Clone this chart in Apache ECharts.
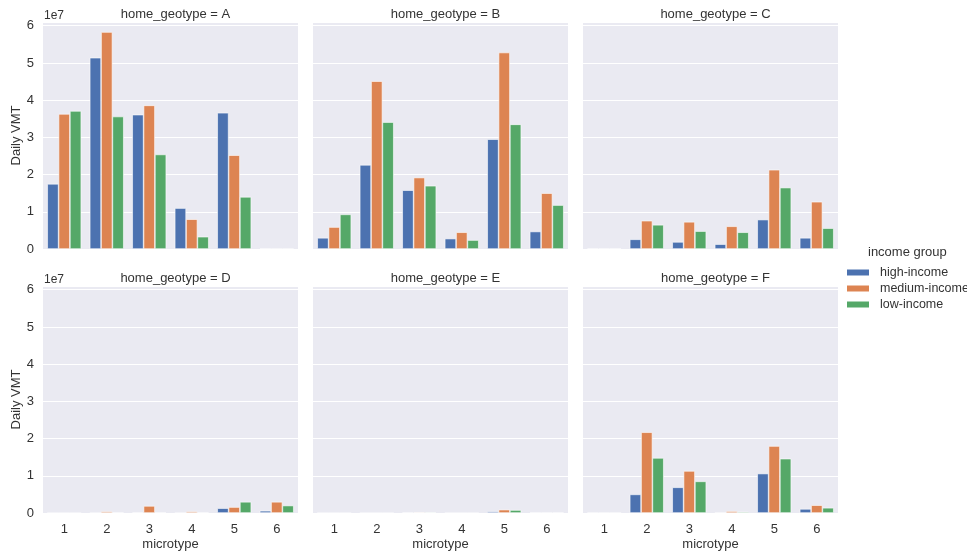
<!DOCTYPE html>
<html>
<head>
<meta charset="utf-8">
<script src="https://cdn.jsdelivr.net/npm/echarts@6/dist/echarts.min.js"></script>
<style>html,body{margin:0;padding:0;background:#fff;}#c{width:967px;height:552px;}</style>
</head>
<body>
<div id="c"></div>
<script>
// values in units of 1e7 (Daily VMT)
const categories = ['1', '2', '3', '4', '5', '6'];
const geotypes = ['A', 'B', 'C', 'D', 'E', 'F'];
const groups = ['high-income', 'medium-income', 'low-income'];
const yTicks = [0, 1, 2, 3, 4, 5, 6];
const highIncome = [
  [1.75, 5.14, 3.61, 1.10, 3.66, 0.01],
  [0.30, 2.26, 1.58, 0.28, 2.95, 0.47],
  [0.01, 0.26, 0.19, 0.13, 0.79, 0.30],
  [0.00, 0.00, 0.01, 0.00, 0.13, 0.06],
  [0.00, 0.00, 0.01, 0.00, 0.04, 0.01],
  [0.005, 0.50, 0.69, 0.005, 1.06, 0.11]
];
const mediumIncome = [
  [3.63, 5.83, 3.86, 0.80, 2.52, 0.005],
  [0.59, 4.51, 1.92, 0.45, 5.28, 1.50],
  [0.01, 0.76, 0.73, 0.61, 2.13, 1.27],
  [0.00, 0.04, 0.19, 0.04, 0.16, 0.30],
  [0.00, 0.00, 0.02, 0.00, 0.09, 0.01],
  [0.005, 2.17, 1.13, 0.05, 1.80, 0.21]
];
const lowIncome = [
  [3.71, 3.56, 2.54, 0.33, 1.40, 0.005],
  [0.93, 3.41, 1.70, 0.24, 3.35, 1.18],
  [0.01, 0.65, 0.48, 0.45, 1.65, 0.56],
  [0.00, 0.01, 0.01, 0.01, 0.30, 0.20],
  [0.00, 0.00, 0.02, 0.00, 0.08, 0.01],
  [0.005, 1.48, 0.85, 0.03, 1.46, 0.14]
];

const colors = ['#4C72B0', '#DD8452', '#55A868'];
const seriesData = [highIncome, mediumIncome, lowIncome];
const lefts = [43, 313, 583];
const tops = [22, 286];
const W = 255, H = 227;
const textColor = '#333';
const font = 'Liberation Sans, Arial, sans-serif';

const grids = [], xAxes = [], yAxes = [], series = [], titles = [];
geotypes.forEach((g, i) => {
  const col = i % 3, row = Math.floor(i / 3);
  grids.push({left: lefts[col], top: tops[row], width: W, height: (row === 0 ? H : H + 1),
    show: true, backgroundColor: '#EAEAF2', borderWidth: 0, containLabel: false});
  xAxes.push({type: 'category', gridIndex: i, data: categories,
    axisLine: {show: false}, axisTick: {show: false},
    axisLabel: {show: row === 1, color: textColor, fontSize: 13, fontFamily: font, margin: 10},
    name: row === 1 ? 'microtype' : '', nameLocation: 'middle', nameGap: 25,
    nameTextStyle: {color: textColor, fontSize: 13, fontFamily: font}});
  yAxes.push({type: 'value', gridIndex: i, min: 0, max: 6.1, interval: 1,
    axisLine: {show: false}, axisTick: {show: false},
    axisLabel: {show: col === 0, color: textColor, fontSize: 13, fontFamily: font, margin: 9,
      formatter: v => (yTicks.indexOf(v) >= 0 ? String(v) : '')},
    splitLine: {show: true, lineStyle: {color: '#ffffff', width: 1}},
    name: col === 0 ? 'Daily VMT' : '', nameLocation: 'middle', nameGap: 19, nameRotate: 90,
    nameTextStyle: {color: textColor, fontSize: 13, fontFamily: font}});
  titles.push({text: 'home_geotype = ' + g, left: lefts[col] + W / 2, top: tops[row] - 19,
    textAlign: 'center', textStyle: {fontSize: 13, fontWeight: 'normal', color: textColor, fontFamily: font}});
  if (col === 0) {
    titles.push({text: '1e7', left: lefts[col] - 4, top: tops[row] - 17,
      textStyle: {fontSize: 12, fontWeight: 'normal', color: textColor, fontFamily: font}});
  }
  groups.forEach((name, k) => {
    series.push({type: 'bar', name: name, xAxisIndex: i, yAxisIndex: i,
      data: seriesData[k][i], barGap: '0%', barCategoryGap: '20%',
      itemStyle: {color: colors[k], borderColor: '#ffffff', borderWidth: 0.6},
      emphasis: {disabled: true}, animation: false});
  });
});
titles.push({text: 'income group', left: 863, top: 241,
  textStyle: {fontSize: 13, fontWeight: 'normal', color: textColor, fontFamily: font}});

const chart = echarts.init(document.getElementById('c'), null, {renderer: 'canvas'});
chart.setOption({
  animation: false,
  backgroundColor: '#ffffff',
  title: titles,
  grid: grids,
  xAxis: xAxes,
  yAxis: yAxes,
  legend: {data: groups, orient: 'vertical', left: 840, top: 261, itemWidth: 24, itemHeight: 8,
    itemGap: 3, icon: 'rect',
    textStyle: {color: textColor, fontSize: 12.5, fontFamily: font, padding: [0, 0, 0, 5]}},
  series: series
});
</script>
</body>
</html>
